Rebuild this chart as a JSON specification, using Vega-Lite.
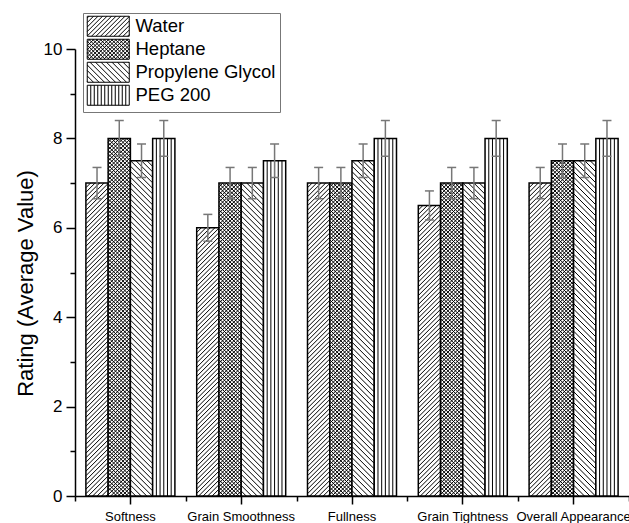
{
  "$schema": "https://vega.github.io/schema/vega-lite/v6.json",
  "autosize": {"type": "none"},
  "padding": {"left": 75, "top": 49, "right": 0, "bottom": 27},
  "width": 554,
  "height": 447,
  "background": "white",
  "config": {"view": {"stroke": null}, "font": "Liberation Sans"},
  "data": {"values": [
    {"cat": "Softness", "series": "Water", "value": 7, "lo": 6.65, "hi": 7.35},
    {"cat": "Softness", "series": "Heptane", "value": 8, "lo": 7.6, "hi": 8.4},
    {"cat": "Softness", "series": "Propylene Glycol", "value": 7.5, "lo": 7.125, "hi": 7.875},
    {"cat": "Softness", "series": "PEG 200", "value": 8, "lo": 7.6, "hi": 8.4},
    {"cat": "Grain Smoothness", "series": "Water", "value": 6, "lo": 5.7, "hi": 6.3},
    {"cat": "Grain Smoothness", "series": "Heptane", "value": 7, "lo": 6.65, "hi": 7.35},
    {"cat": "Grain Smoothness", "series": "Propylene Glycol", "value": 7, "lo": 6.65, "hi": 7.35},
    {"cat": "Grain Smoothness", "series": "PEG 200", "value": 7.5, "lo": 7.125, "hi": 7.875},
    {"cat": "Fullness", "series": "Water", "value": 7, "lo": 6.65, "hi": 7.35},
    {"cat": "Fullness", "series": "Heptane", "value": 7, "lo": 6.65, "hi": 7.35},
    {"cat": "Fullness", "series": "Propylene Glycol", "value": 7.5, "lo": 7.125, "hi": 7.875},
    {"cat": "Fullness", "series": "PEG 200", "value": 8, "lo": 7.6, "hi": 8.4},
    {"cat": "Grain Tightness", "series": "Water", "value": 6.5, "lo": 6.175, "hi": 6.825},
    {"cat": "Grain Tightness", "series": "Heptane", "value": 7, "lo": 6.65, "hi": 7.35},
    {"cat": "Grain Tightness", "series": "Propylene Glycol", "value": 7, "lo": 6.65, "hi": 7.35},
    {"cat": "Grain Tightness", "series": "PEG 200", "value": 8, "lo": 7.6, "hi": 8.4},
    {"cat": "Overall Appearance", "series": "Water", "value": 7, "lo": 6.65, "hi": 7.35},
    {"cat": "Overall Appearance", "series": "Heptane", "value": 7.5, "lo": 7.125, "hi": 7.875},
    {"cat": "Overall Appearance", "series": "Propylene Glycol", "value": 7.5, "lo": 7.125, "hi": 7.875},
    {"cat": "Overall Appearance", "series": "PEG 200", "value": 8, "lo": 7.6, "hi": 8.4}
  ]},
  "resolve": {"axis": {"x": "independent", "y": "independent"}, "scale": {"shape": "independent"}},
  "layer": [
    {
      "mark": {"type": "bar", "fill": "white", "stroke": "black", "strokeWidth": 1.5},
      "encoding": {
        "x": {"field": "cat", "type": "nominal",
              "scale": {"domain": ["Softness", "Grain Smoothness", "Fullness", "Grain Tightness", "Overall Appearance"], "paddingInner": 0, "paddingOuter": 0},
              "axis": {"orient": "bottom", "title": null, "labelAngle": 0, "labelFontSize": 13, "labelFont": "Liberation Sans", "labelColor": "black", "tickSize": 8, "tickWidth": 1.5, "tickColor": "black", "domainColor": "black", "domainWidth": 1.5, "labelPadding": 6}},
        "xOffset": {"field": "series", "type": "nominal",
              "scale": {"domain": ["Water", "Heptane", "Propylene Glycol", "PEG 200"], "paddingInner": 0, "paddingOuter": 0.49}},
        "y": {"field": "value", "type": "quantitative",
              "scale": {"domain": [0, 10], "nice": false},
              "axis": {"orient": "left", "title": "Rating (Average Value)", "titleFontSize": 22, "titleFont": "Liberation Sans", "titleFontWeight": "normal", "titleColor": "black", "titleY": 234, "values": [0, 2, 4, 6, 8, 10], "labelFontSize": 17, "labelFont": "Liberation Sans", "labelColor": "black", "tickSize": 9, "tickWidth": 1.5, "tickColor": "black", "domainColor": "black", "domainWidth": 1.5, "grid": false, "labelPadding": 4, "titlePadding": 6}}
      }
    },
    {
      "mark": {"type": "point", "filled": false, "size": 4, "color": "black", "strokeWidth": 1, "opacity": 1, "clip": true},
      "encoding": {
        "x": {"field": "cat", "type": "nominal", "axis": null},
        "xOffset": {"field": "series", "type": "nominal"},
        "y": {"field": "value", "type": "quantitative", "axis": null},
        "shape": {"field": "series", "type": "nominal", "legend": null,
          "scale": {"domain": ["Water", "Heptane", "Propylene Glycol", "PEG 200"],
            "range": [
              "M-11,4.5l4.5,-4.5M-11,9l9,-9M-11,13.5l13.5,-13.5M-11,18l18,-18M-11,22.5l22,-22m-22,26.5l22,-22m-22,26.5l22,-22m-22,26.5l22,-22m-22,26.5l22,-22m-22,26.5l22,-22m-22,26.5l22,-22m-22,26.5l22,-22m-22,26.5l22,-22m-22,26.5l22,-22m-22,26.5l22,-22m-22,26.5l22,-22m-22,26.5l22,-22m-22,26.5l22,-22m-22,26.5l22,-22m-22,26.5l22,-22m-22,26.5l22,-22m-22,26.5l22,-22m-22,26.5l22,-22m-22,26.5l22,-22m-22,26.5l22,-22m-22,26.5l22,-22m-22,26.5l22,-22m-22,26.5l22,-22m-22,26.5l22,-22m-22,26.5l22,-22m-22,26.5l22,-22m-22,26.5l22,-22m-22,26.5l22,-22m-22,26.5l22,-22m-22,26.5l22,-22m-22,26.5l22,-22m-22,26.5l22,-22m-22,26.5l22,-22m-22,26.5l22,-22m-22,26.5l22,-22m-22,26.5l22,-22m-22,26.5l22,-22m-22,26.5l22,-22m-22,26.5l22,-22m-22,26.5l22,-22m-22,26.5l22,-22m-22,26.5l22,-22m-22,26.5l22,-22m-22,26.5l22,-22m-22,26.5l22,-22m-22,26.5l22,-22m-22,26.5l22,-22m-22,26.5l22,-22m-22,26.5l22,-22m-22,26.5l22,-22m-22,26.5l22,-22m-22,26.5l22,-22m-22,26.5l22,-22m-22,26.5l22,-22m-22,26.5l22,-22m-22,26.5l22,-22m-22,26.5l22,-22m-22,26.5l22,-22m-22,26.5l22,-22m-22,26.5l22,-22m-22,26.5l22,-22m-22,26.5l22,-22m-22,26.5l22,-22m-22,26.5l22,-22m-22,26.5l22,-22m-22,26.5l22,-22m-22,26.5l22,-22m-22,26.5l22,-22m-22,26.5l22,-22m-22,26.5l22,-22m-22,26.5l22,-22m-22,26.5l22,-22m-22,26.5l22,-22m-22,26.5l22,-22m-22,26.5l22,-22m-22,26.5l22,-22",
              "M-11,3.75l3.75,-3.75M-11,7.5l7.5,-7.5M-11,11.25l11.25,-11.25M-11,15l15,-15M-11,18.75l18.75,-18.75M-11,22.5l22,-22m-22,25.75l22,-22m-22,25.75l22,-22m-22,25.75l22,-22m-22,25.75l22,-22m-22,25.75l22,-22m-22,25.75l22,-22m-22,25.75l22,-22m-22,25.75l22,-22m-22,25.75l22,-22m-22,25.75l22,-22m-22,25.75l22,-22m-22,25.75l22,-22m-22,25.75l22,-22m-22,25.75l22,-22m-22,25.75l22,-22m-22,25.75l22,-22m-22,25.75l22,-22m-22,25.75l22,-22m-22,25.75l22,-22m-22,25.75l22,-22m-22,25.75l22,-22m-22,25.75l22,-22m-22,25.75l22,-22m-22,25.75l22,-22m-22,25.75l22,-22m-22,25.75l22,-22m-22,25.75l22,-22m-22,25.75l22,-22m-22,25.75l22,-22m-22,25.75l22,-22m-22,25.75l22,-22m-22,25.75l22,-22m-22,25.75l22,-22m-22,25.75l22,-22m-22,25.75l22,-22m-22,25.75l22,-22m-22,25.75l22,-22m-22,25.75l22,-22m-22,25.75l22,-22m-22,25.75l22,-22m-22,25.75l22,-22m-22,25.75l22,-22m-22,25.75l22,-22m-22,25.75l22,-22m-22,25.75l22,-22m-22,25.75l22,-22m-22,25.75l22,-22m-22,25.75l22,-22m-22,25.75l22,-22m-22,25.75l22,-22m-22,25.75l22,-22m-22,25.75l22,-22m-22,25.75l22,-22m-22,25.75l22,-22m-22,25.75l22,-22m-22,25.75l22,-22m-22,25.75l22,-22m-22,25.75l22,-22m-22,25.75l22,-22m-22,25.75l22,-22m-22,25.75l22,-22m-22,25.75l22,-22m-22,25.75l22,-22m-22,25.75l22,-22m-22,25.75l22,-22m-22,25.75l22,-22m-22,25.75l22,-22m-22,25.75l22,-22m-22,25.75l22,-22m-22,25.75l22,-22m-22,25.75l22,-22m-22,25.75l22,-22m-22,25.75l22,-22m-22,25.75l22,-22m-22,25.75l22,-22m-22,25.75l22,-22m-22,25.75l22,-22m-22,25.75l22,-22m-22,25.75l22,-22m-22,25.75l22,-22m-22,25.75l22,-22m-22,25.75l22,-22m-22,25.75l22,-22m-22,25.75l22,-22m-22,25.75l22,-22m-22,25.75l22,-22m-22,25.75l22,-22m-22,25.75l22,-22m-22,25.75l22,-22m-22,25.75l22,-22m-22,25.75l22,-22m-22,25.75l22,-22m-22,25.75l22,-22m-22,25.75l22,-22m-22,25.75l22,-22m-22,25.75l22,-22m-22,25.75l22,-22M7.25,0l3.75,3.75M3.5,0l7.5,7.5M-0.25,0l11.25,11.25M-4,0l15,15M-7.75,0l18.75,18.75M-11,0.5l22,22m-22,-18.25l22,22m-22,-18.25l22,22m-22,-18.25l22,22m-22,-18.25l22,22m-22,-18.25l22,22m-22,-18.25l22,22m-22,-18.25l22,22m-22,-18.25l22,22m-22,-18.25l22,22m-22,-18.25l22,22m-22,-18.25l22,22m-22,-18.25l22,22m-22,-18.25l22,22m-22,-18.25l22,22m-22,-18.25l22,22m-22,-18.25l22,22m-22,-18.25l22,22m-22,-18.25l22,22m-22,-18.25l22,22m-22,-18.25l22,22m-22,-18.25l22,22m-22,-18.25l22,22m-22,-18.25l22,22m-22,-18.25l22,22m-22,-18.25l22,22m-22,-18.25l22,22m-22,-18.25l22,22m-22,-18.25l22,22m-22,-18.25l22,22m-22,-18.25l22,22m-22,-18.25l22,22m-22,-18.25l22,22m-22,-18.25l22,22m-22,-18.25l22,22m-22,-18.25l22,22m-22,-18.25l22,22m-22,-18.25l22,22m-22,-18.25l22,22m-22,-18.25l22,22m-22,-18.25l22,22m-22,-18.25l22,22m-22,-18.25l22,22m-22,-18.25l22,22m-22,-18.25l22,22m-22,-18.25l22,22m-22,-18.25l22,22m-22,-18.25l22,22m-22,-18.25l22,22m-22,-18.25l22,22m-22,-18.25l22,22m-22,-18.25l22,22m-22,-18.25l22,22m-22,-18.25l22,22m-22,-18.25l22,22m-22,-18.25l22,22m-22,-18.25l22,22m-22,-18.25l22,22m-22,-18.25l22,22m-22,-18.25l22,22m-22,-18.25l22,22m-22,-18.25l22,22m-22,-18.25l22,22m-22,-18.25l22,22m-22,-18.25l22,22m-22,-18.25l22,22m-22,-18.25l22,22m-22,-18.25l22,22m-22,-18.25l22,22m-22,-18.25l22,22m-22,-18.25l22,22m-22,-18.25l22,22m-22,-18.25l22,22m-22,-18.25l22,22m-22,-18.25l22,22m-22,-18.25l22,22m-22,-18.25l22,22m-22,-18.25l22,22m-22,-18.25l22,22m-22,-18.25l22,22m-22,-18.25l22,22m-22,-18.25l22,22m-22,-18.25l22,22m-22,-18.25l22,22m-22,-18.25l22,22m-22,-18.25l22,22m-22,-18.25l22,22m-22,-18.25l22,22m-22,-18.25l22,22m-22,-18.25l22,22m-22,-18.25l22,22m-22,-18.25l22,22m-22,-18.25l22,22m-22,-18.25l22,22",
              "M5.5,0l5.5,5.5M0,0l11,11M-5.5,0l16.5,16.5M-11,0l22,22m-22,-16.5l22,22m-22,-16.5l22,22m-22,-16.5l22,22m-22,-16.5l22,22m-22,-16.5l22,22m-22,-16.5l22,22m-22,-16.5l22,22m-22,-16.5l22,22m-22,-16.5l22,22m-22,-16.5l22,22m-22,-16.5l22,22m-22,-16.5l22,22m-22,-16.5l22,22m-22,-16.5l22,22m-22,-16.5l22,22m-22,-16.5l22,22m-22,-16.5l22,22m-22,-16.5l22,22m-22,-16.5l22,22m-22,-16.5l22,22m-22,-16.5l22,22m-22,-16.5l22,22m-22,-16.5l22,22m-22,-16.5l22,22m-22,-16.5l22,22m-22,-16.5l22,22m-22,-16.5l22,22m-22,-16.5l22,22m-22,-16.5l22,22m-22,-16.5l22,22m-22,-16.5l22,22m-22,-16.5l22,22m-22,-16.5l22,22m-22,-16.5l22,22m-22,-16.5l22,22m-22,-16.5l22,22m-22,-16.5l22,22m-22,-16.5l22,22m-22,-16.5l22,22m-22,-16.5l22,22m-22,-16.5l22,22m-22,-16.5l22,22m-22,-16.5l22,22m-22,-16.5l22,22m-22,-16.5l22,22m-22,-16.5l22,22m-22,-16.5l22,22m-22,-16.5l22,22m-22,-16.5l22,22m-22,-16.5l22,22m-22,-16.5l22,22m-22,-16.5l22,22m-22,-16.5l22,22m-22,-16.5l22,22m-22,-16.5l22,22m-22,-16.5l22,22m-22,-16.5l22,22m-22,-16.5l22,22m-22,-16.5l22,22m-22,-16.5l22,22m-22,-16.5l22,22m-22,-16.5l22,22m-22,-16.5l22,22m-22,-16.5l22,22m-22,-16.5l22,22m-22,-16.5l22,22m-22,-16.5l22,22",
              "M-7.4,0v400M-3.7,0v400M0,0v400M3.7,0v400M7.4,0v400"
            ]}}
      }
    },
    {
      "mark": {"type": "rule", "color": "#777777", "strokeWidth": 1.5},
      "encoding": {
        "x": {"field": "cat", "type": "nominal",
              "axis": {"orient": "bottom", "title": null, "labels": false, "domain": false, "tickBand": "extent", "tickSize": 5, "tickWidth": 1.5, "tickColor": "black", "grid": false}},
        "xOffset": {"field": "series", "type": "nominal"},
        "y": {"field": "lo", "type": "quantitative",
              "axis": {"orient": "left", "title": null, "values": [1, 3, 5, 7, 9], "labels": false, "domain": false, "tickSize": 5, "tickWidth": 1.5, "tickColor": "black", "grid": false}},
        "y2": {"field": "hi"}
      }
    },
    {
      "mark": {"type": "tick", "orient": "horizontal", "color": "#777777", "size": 9, "thickness": 1.5, "opacity": 1},
      "encoding": {
        "x": {"field": "cat", "type": "nominal", "axis": null},
        "xOffset": {"field": "series", "type": "nominal"},
        "y": {"field": "hi", "type": "quantitative", "axis": null}
      }
    },
    {
      "mark": {"type": "tick", "orient": "horizontal", "color": "#777777", "size": 9, "thickness": 1.5, "opacity": 1},
      "encoding": {
        "x": {"field": "cat", "type": "nominal", "axis": null},
        "xOffset": {"field": "series", "type": "nominal"},
        "y": {"field": "lo", "type": "quantitative", "axis": null}
      }
    },
    {
      "transform": [{"filter": "false"}],
      "mark": {"type": "point", "filled": false, "color": "black", "strokeWidth": 1, "size": 4, "opacity": 1},
      "encoding": {
        "x": {"field": "cat", "type": "nominal", "axis": null},
        "xOffset": {"field": "series", "type": "nominal"},
        "y": {"field": "value", "type": "quantitative", "axis": null},
        "shape": {"field": "series", "type": "nominal",
          "scale": {"domain": ["Water", "Heptane", "Propylene Glycol", "PEG 200"],
            "range": [
              "M-21,-10h42v20h-42zM-7.75,10L12.25,-10M-3.25,10L16.75,-10M1.25,10L21,-9.75M5.75,10L21,-5.25M10.25,10L21,-0.75M14.75,10L21,3.75M19.25,10L21,8.25M7.75,-10L-12.25,10M3.25,-10L-16.75,10M-1.25,-10L-21,9.75M-5.75,-10L-21,5.25M-10.25,-10L-21,0.75M-14.75,-10L-21,-3.75M-19.25,-10L-21,-8.25",
              "M-21,-10h42v20h-42zM-8.125,10L11.875,-10M-4.375,10L15.625,-10M-0.625,10L19.375,-10M3.125,10L21,-7.875M6.875,10L21,-4.125M10.625,10L21,-0.375M14.375,10L21,3.375M18.125,10L21,7.125M8.125,-10L-11.875,10M4.375,-10L-15.625,10M0.625,-10L-19.375,10M-3.125,-10L-21,7.875M-6.875,-10L-21,4.125M-10.625,-10L-21,0.375M-14.375,-10L-21,-3.375M-18.125,-10L-21,-7.125M8.125,10L-11.875,-10M4.375,10L-15.625,-10M0.625,10L-19.375,-10M-3.125,10L-21,-7.875M-6.875,10L-21,-4.125M-10.625,10L-21,-0.375M-14.375,10L-21,3.375M-18.125,10L-21,7.125M-8.125,-10L11.875,10M-4.375,-10L15.625,10M-0.625,-10L19.375,10M3.125,-10L21,7.875M6.875,-10L21,4.125M10.625,-10L21,0.375M14.375,-10L21,-3.375M18.125,-10L21,-7.125",
              "M-21,-10h42v20h-42zM7.25,10L-12.75,-10M1.75,10L-18.25,-10M-3.75,10L-21,-7.25M-9.25,10L-21,-1.75M-14.75,10L-21,3.75M-20.25,10L-21,9.25M-7.25,-10L12.75,10M-1.75,-10L18.25,10M3.75,-10L21,7.25M9.25,-10L21,1.75M14.75,-10L21,-3.75M20.25,-10L21,-9.25",
              "M-21,-10h42v20h-42zM-17.5,-10v20M-14,-10v20M-10.5,-10v20M-7,-10v20M-3.5,-10v20M0,-10v20M3.5,-10v20M7,-10v20M10.5,-10v20M14,-10v20M17.5,-10v20"
            ]},
          "legend": {
            "title": null, "orient": "none", "legendX": 8, "legendY": -36,
            "strokeColor": "#777777", "fillColor": "white", "padding": 4,
            "symbolSize": 4, "symbolOffset": 12, "labelOffset": 18,
            "symbolStrokeColor": "black", "symbolStrokeWidth": 1, "symbolOpacity": 1,
            "labelFontSize": 18.5, "labelFont": "Liberation Sans", "labelColor": "black",
            "rowPadding": -2
          }}
      }
    }
  ]
}
